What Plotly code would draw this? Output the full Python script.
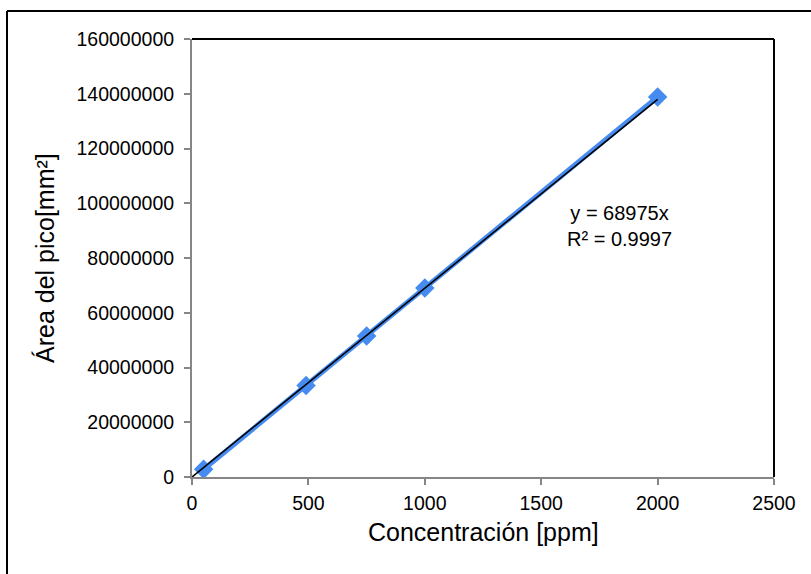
import plotly.graph_objects as go

conc = [50, 490, 750, 1000, 2000]
area = [2.8e6, 33.4e6, 51.5e6, 69.0e6, 138.8e6]
slope = 68975
trend_x = [0, 2000]
trend_y = [slope * v for v in trend_x]
eq_text = "y = 68975x<br>R² = 0.9997"
x_title = "Concentración [ppm]"
y_title = "Área del pico[mm²]"
x_ticks = [0, 500, 1000, 1500, 2000, 2500]
y_ticks = [0, 20000000, 40000000, 60000000, 80000000, 100000000, 120000000, 140000000, 160000000]

FONT = "Liberation Sans, Arial, sans-serif"
BLUE = "rgb(70,140,240)"
GRAY = "#868686"

fig = go.Figure()
fig.add_trace(go.Scatter(x=conc, y=area, mode="lines+markers",
                         line=dict(color=BLUE, width=5),
                         marker=dict(symbol="diamond", size=15, color=BLUE),
                         showlegend=False))
fig.add_trace(go.Scatter(x=trend_x, y=trend_y, mode="lines",
                         line=dict(color="black", width=1.6),
                         showlegend=False))

L, R, T, B = 192, 37, 39, 97
W, H = 811, 574
pw, ph = W - L - R, H - T - B

fig.update_layout(
    width=W, height=H,
    margin=dict(l=L, r=R, t=T, b=B, pad=0),
    paper_bgcolor="white", plot_bgcolor="white",
    font=dict(family=FONT, size=19.5, color="black"),
    xaxis=dict(range=[0, 2500], tickvals=x_ticks, ticktext=[str(v) for v in x_ticks],
               showgrid=False, zeroline=False, showline=True, linecolor=GRAY, linewidth=2,
               ticks="outside", ticklen=6, tickcolor=GRAY, tickwidth=1.5,
               tickfont=dict(size=19.5), ticklabelstandoff=2),
    yaxis=dict(range=[0, 160000000], tickvals=y_ticks, ticktext=[str(v) for v in y_ticks],
               showgrid=False, zeroline=False, showline=True, linecolor=GRAY, linewidth=2,
               ticks="outside", ticklen=6, tickcolor=GRAY, tickwidth=1.5,
               tickfont=dict(size=19.5), ticklabelstandoff=6),
)

# plot area top and right border (black)
fig.add_shape(type="line", xref="paper", yref="paper", x0=0, x1=1, y0=1, y1=1,
              line=dict(color="black", width=2))
fig.add_shape(type="line", xref="paper", yref="paper", x0=1, x1=1, y0=0, y1=1,
              line=dict(color="black", width=2))
# outer chart border (left and top only; cropped at right/bottom)
bx = (7 - L) / pw
by = (H - B - 11) / ph
fig.add_shape(type="line", xref="paper", yref="paper", x0=bx, x1=bx, y0=-0.6, y1=by,
              line=dict(color="black", width=2))
fig.add_shape(type="line", xref="paper", yref="paper", x0=bx, x1=1.5, y0=by, y1=by,
              line=dict(color="black", width=2))

fig.add_annotation(x=1838, y=91.7e6, xref="x", yref="y", text=eq_text, showarrow=False,
                   font=dict(size=20), align="center")
fig.add_annotation(x=0.5, y=(H - B - 532) / ph, xref="paper", yref="paper", text=x_title,
                   showarrow=False, font=dict(size=25), yanchor="middle")
fig.add_annotation(x=(45 - L) / pw, y=(H - B - 258) / ph, xref="paper", yref="paper",
                   text=y_title, showarrow=False, font=dict(size=25), textangle=-90,
                   xanchor="center", yanchor="middle")

fig.write_html("out.html")
